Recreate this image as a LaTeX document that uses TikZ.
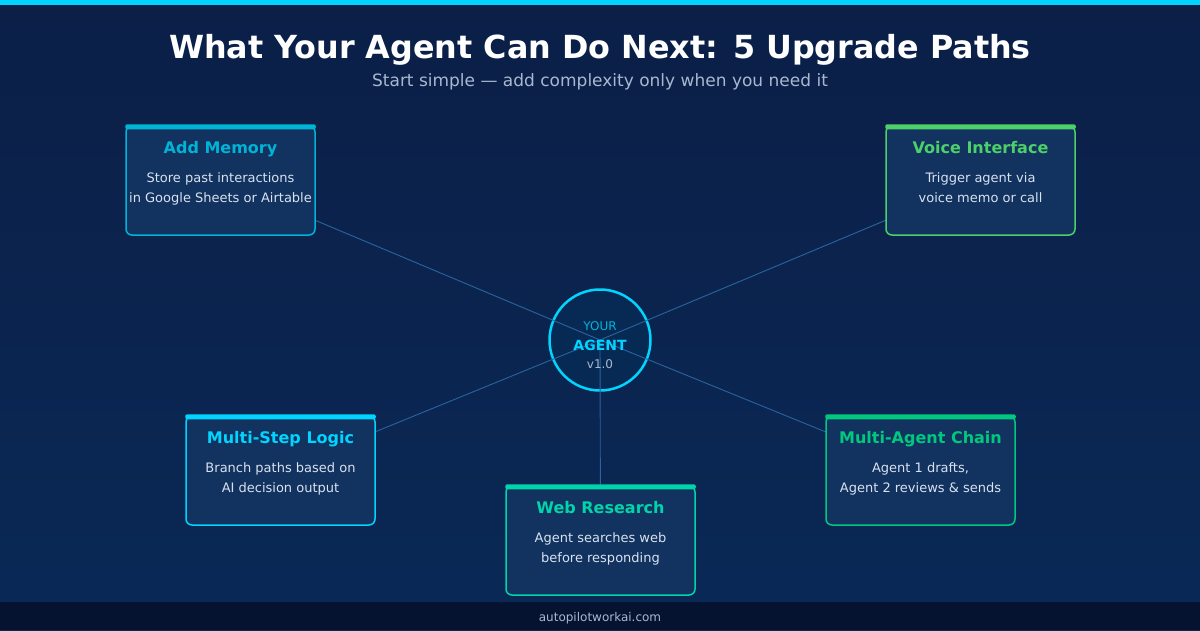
\documentclass[tikz,border=0pt]{standalone}
\usepackage{fontspec}
\setmainfont{DejaVu Sans}
\usetikzlibrary{positioning}

\definecolor{bgtop}{HTML}{0B1F47}
\definecolor{bgbot}{HTML}{0A2956}
\definecolor{footbg}{HTML}{061330}
\definecolor{topbar}{HTML}{00D4FF}
\definecolor{cardfill}{HTML}{12325F}
\definecolor{bodytxt}{HTML}{D8E2F0}
\definecolor{subtxt}{HTML}{A8B8D0}
\definecolor{spokecol}{HTML}{2A64A0}
\definecolor{agentfill}{HTML}{072A55}
\definecolor{memcol}{HTML}{00B4D8}
\definecolor{voicecol}{HTML}{4CD06A}
\definecolor{stepcol}{HTML}{00D4FF}
\definecolor{chaincol}{HTML}{00C87F}
\definecolor{webcol}{HTML}{00D4AA}

\pgfdeclarelayer{background}
\pgfdeclarelayer{links}
\pgfsetlayers{background,links,main}

\begin{document}
\begin{tikzpicture}[x=1pt,y=-1pt,
    card/.style={draw=#1, line width=1.5pt, fill=cardfill, rounded corners=6pt,
        minimum width=189pt, minimum height=109pt, inner sep=0pt},
    cardtitle/.style={text=#1, font=\fontsize{16}{19}\selectfont\bfseries, anchor=base},
    cardtext/.style={text=bodytxt, font=\fontsize{13}{20}\selectfont, align=center, anchor=base},
    spoke/.style={draw=spokecol, line width=0.9pt}]

    % backdrop
    \begin{pgfonlayer}{background}
        \shade[top color=bgtop, bottom color=bgbot] (0,0) rectangle (1200,630);
        \fill[topbar] (0,0) rectangle (1200,5);
        \fill[footbg] (0,602) rectangle (1200,630);
        \node[circle, draw=topbar, line width=2.5pt, fill=agentfill, minimum size=101pt] (agent) at (600,340) {};
    \end{pgfonlayer}

    \node[font=\fontsize{31.8}{38}\selectfont\bfseries, text=white, anchor=base] (title) at (600,58) {What Your Agent Can Do Next: 5 Upgrade Paths};
    \node[font=\fontsize{17}{20}\selectfont, text=subtxt, anchor=base] (subtitle) at (600,86) {Start simple --- add complexity only when you need it};

    % centre
    \node[font=\fontsize{12}{14}\selectfont, text=memcol, anchor=base] (your) at (600,330) {YOUR};
    \node[font=\fontsize{14}{16}\selectfont\bfseries, text=topbar, anchor=base] (agentlbl) at (600,350) {AGENT};
    \node[font=\fontsize{12}{14}\selectfont, text=subtxt, anchor=base] (version) at (600,368) {v1.0};

    % cards
    \foreach \n/\x/\y/\col/\ttl/\txt in {
        mem/220.5/180.5/memcol/{Add Memory}/{Store past interactions\\in Google Sheets or Airtable},
        voice/980.5/180.5/voicecol/{Voice Interface}/{Trigger agent via\\voice memo or call},
        step/280.5/470.5/stepcol/{Multi-Step Logic}/{Branch paths based on\\AI decision output},
        chain/920.5/470.5/chaincol/{Multi-Agent Chain}/{Agent 1 drafts,\\Agent 2 reviews \& sends},
        web/600.5/540.5/webcol/{Web Research}/{Agent searches web\\before responding}} {
        \node[card=\col] (\n) at (\x,\y) {};
        \fill[\col, rounded corners=2pt] ([yshift=1pt]\n.north west) rectangle ([yshift=-4pt]\n.north east);
        \node[cardtitle=\col] (\n-title) at ([yshift=-28.5pt]\n.north) {\ttl};
        \node[cardtext] (\n-text) at ([yshift=-77.5pt]\n.north) {\txt};
        \begin{pgfonlayer}{links}
            \draw[spoke] (agent.center) -- (\n.center);
        \end{pgfonlayer}
    }

    \node[font=\fontsize{12}{14}\selectfont, text=subtxt, anchor=base] (footer) at (600,621) {autopilotworkai.com};
\end{tikzpicture}
\end{document}
